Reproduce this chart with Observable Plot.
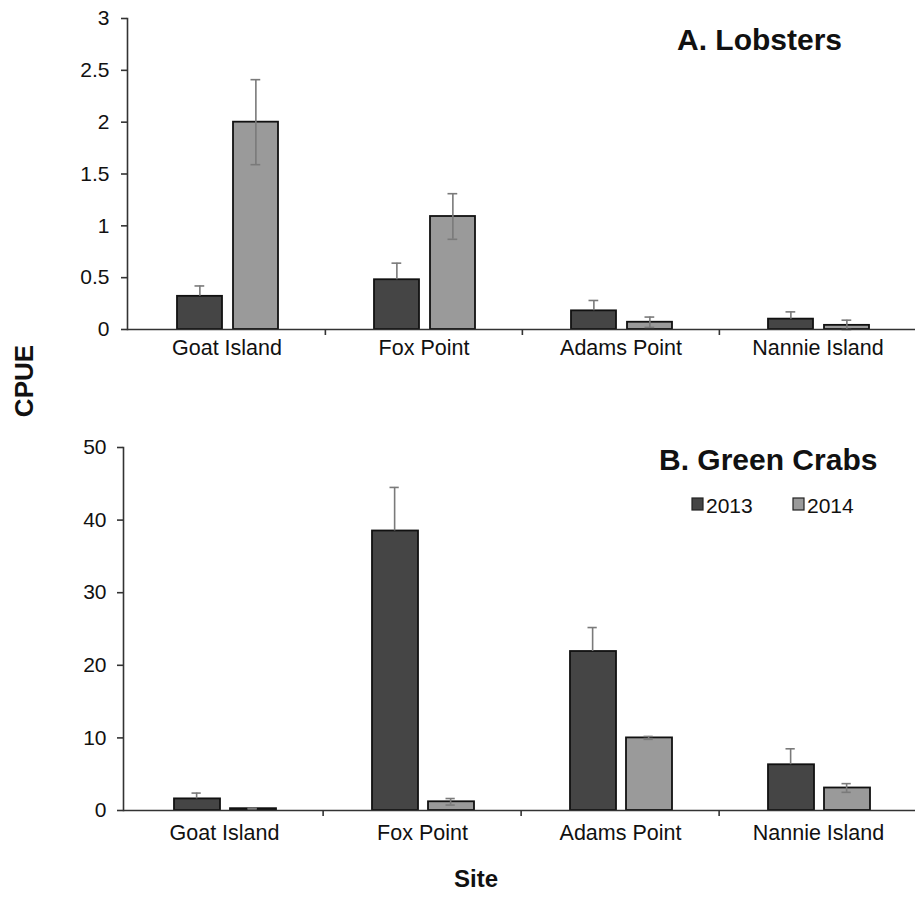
<!DOCTYPE html>
<html><head><meta charset="utf-8">
<script src="https://cdn.jsdelivr.net/npm/d3@7"></script>
<script src="https://cdn.jsdelivr.net/npm/@observablehq/plot@0.6"></script>
<style>
body{margin:0;background:#fff;}
#chart{position:relative;width:915px;height:909px;font-family:"Liberation Sans",Arial,sans-serif;}
#chart > svg{position:absolute;left:0;}
</style></head><body><div id="chart"></div>
<script>
// ---- data ----
const sites = ["Goat Island", "Fox Point", "Adams Point", "Nannie Island"];
const years = ["2013", "2014"];
const yearColors = ["#454545", "#9a9a9a"];

const lobster2013 = [0.32, 0.48, 0.18, 0.10];
const lobster2013Err = [0.10, 0.16, 0.10, 0.07];
const lobster2014 = [2.00, 1.09, 0.07, 0.04];
const lobster2014Err = [0.41, 0.22, 0.05, 0.05];

const crab2013 = [1.6, 38.5, 21.9, 6.3];
const crab2013Err = [0.8, 6.0, 3.3, 2.2];
const crab2014 = [0.25, 1.2, 10.0, 3.1];
const crab2014Err = [0.05, 0.45, 0.2, 0.6];

const lobsterTicks = [0, 0.5, 1, 1.5, 2, 2.5, 3];
const crabTicks = [0, 10, 20, 30, 40, 50];

const titleA = "A. Lobsters";
const titleB = "B. Green Crabs";
const yLabel = "CPUE";
const xLabel = "Site";

const FONT = "'Liberation Sans', Arial, sans-serif";

function rows(vals, errs) {
  return sites.map((s, i) => ({site: s, value: vals[i], err: errs[i]}));
}

function panel({v13, e13, v14, e14, ticks, xRange, height, marginTop, marginBottom, tickPad, labelPad}) {
  const r13 = rows(v13, e13), r14 = rows(v14, e14);
  const bw = (xRange[1] - xRange[0]) / sites.length;
  const errStyle = {stroke: "#7a7a7a", strokeWidth: 1.6};
  return Plot.plot({
    width: 915, height, marginTop, marginBottom, marginLeft: xRange[0], marginRight: 0,
    style: {fontFamily: FONT, color: "#111", background: "transparent", overflow: "visible"},
    x: {domain: sites, range: xRange, padding: 0, label: null, axis: null},
    y: {domain: [ticks[0], ticks[ticks.length - 1]], label: null, axis: null},
    marks: [
      Plot.barY(r13, {x: "site", y: "value", fill: yearColors[0], stroke: "#111", strokeWidth: 1.8, insetLeft: 49, insetRight: 103}),
      Plot.barY(r14, {x: "site", y: "value", fill: yearColors[1], stroke: "#111", strokeWidth: 1.8, insetLeft: 105, insetRight: 47}),
      Plot.ruleX(r13, {x: "site", y1: "value", y2: d => d.value + d.err, dx: 71.5 - bw / 2, ...errStyle}),
      Plot.ruleX(r14, {x: "site", y1: d => Math.max(0, d.value - d.err), y2: d => d.value + d.err, dx: 127.5 - bw / 2, ...errStyle}),
      Plot.tickY(r13, {x: "site", y: d => d.value + d.err, insetLeft: 66.5, insetRight: bw - 76.5, ...errStyle}),
      Plot.tickY(r14, {x: "site", y: d => d.value + d.err, insetLeft: 122.5, insetRight: bw - 132.5, ...errStyle}),
      Plot.tickY(r14, {x: "site", y: d => Math.max(0, d.value - d.err), insetLeft: 122.5, insetRight: bw - 132.5, ...errStyle}),
      Plot.frame({anchor: "left", stroke: "#333", strokeWidth: 1.6}),
      Plot.ruleY([0], {stroke: "#333", strokeWidth: 1.6}),
      Plot.ruleX(sites.slice(1), {x: d => d, y1: () => 0, y2: () => 0, dx: -bw / 2, insetBottom: -6, stroke: "#333", strokeWidth: 1.6}),
      Plot.axisY({ticks, tickSize: 6, tickPadding: tickPad, fontSize: 21, stroke: "#333", strokeWidth: 1.6, fill: "#111", tickFormat: d => String(d)}),
      Plot.axisX({tickSize: 0, tickPadding: labelPad, fontSize: 21.5, fill: "#111"})
    ]
  });
}

const chartEl = document.getElementById("chart");

const topPanel = panel({v13: lobster2013, e13: lobster2013Err, v14: lobster2014, e14: lobster2014Err,
  ticks: lobsterTicks, xRange: [127, 916], height: 370, marginTop: 18, marginBottom: 41, tickPad: 12, labelPad: 10});
topPanel.style.top = "0px";
chartEl.appendChild(topPanel);

const bottomPanel = panel({v13: crab2013, e13: crab2013Err, v14: crab2014, e14: crab2014Err,
  ticks: crabTicks, xRange: [123, 918], height: 470, marginTop: 77, marginBottom: 30, tickPad: 11, labelPad: 14});
bottomPanel.style.top = "370px";
chartEl.appendChild(bottomPanel);

// overlay: titles, legend, axis titles
const ov = d3.create("svg").attr("width", 915).attr("height", 909)
  .style("top", "0px").style("font-family", FONT).style("pointer-events", "none");
ov.append("text").attr("x", 677).attr("y", 50).attr("font-size", 30).attr("font-weight", "bold").attr("fill", "#111").text(titleA);
ov.append("text").attr("x", 659).attr("y", 470).attr("font-size", 30).attr("font-weight", "bold").attr("fill", "#111").text(titleB);
ov.append("text").attr("transform", "translate(33,381) rotate(-90)").attr("text-anchor", "middle")
  .attr("font-size", 26).attr("font-weight", "bold").attr("fill", "#111").text(yLabel);
ov.append("text").attr("x", 476).attr("y", 887).attr("text-anchor", "middle")
  .attr("font-size", 24).attr("font-weight", "bold").attr("fill", "#111").text(xLabel);
const legX = [692, 793];
years.forEach((y, i) => {
  ov.append("rect").attr("x", legX[i]).attr("y", 498).attr("width", 11).attr("height", 12)
    .attr("fill", yearColors[i]).attr("stroke", "#222").attr("stroke-width", 1.2);
  ov.append("text").attr("x", legX[i] + 14).attr("y", 513).attr("font-size", 21).attr("fill", "#111").text(y);
});
chartEl.appendChild(ov.node());
</script>
</body></html>
